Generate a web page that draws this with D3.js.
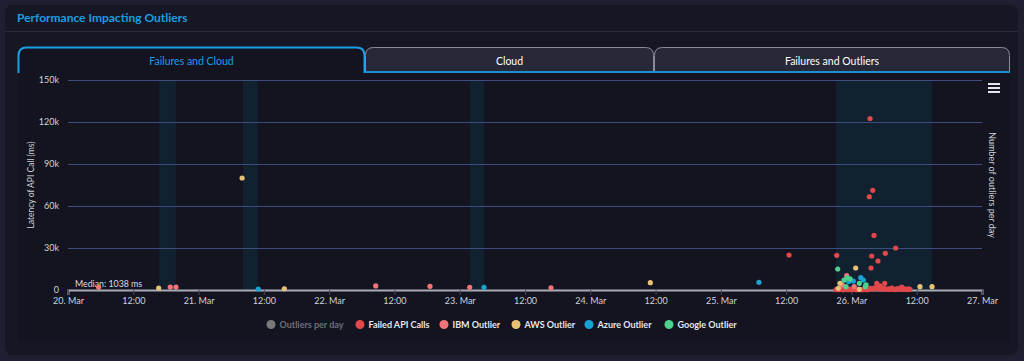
<!DOCTYPE html>
<html>
<head>
<meta charset="utf-8">
<script src="https://cdn.jsdelivr.net/npm/d3@7"></script>
<style>
  html, body { margin: 0; padding: 0; background: #1e1f31; overflow: hidden; }
  svg { display: block; font-family: Lato, sans-serif; }
</style>
</head>
<body>
<script>
// chart data (times are local, value in ms)
var failedApi = [
  ['2023-03-25T12:32', 25000], ['2023-03-25T21:18', 24800], ['2023-03-26T03:25', 122500],
  ['2023-03-26T03:55', 71200], ['2023-03-26T03:17', 66600], ['2023-03-26T04:09', 39000],
  ['2023-03-26T08:08', 30000], ['2023-03-26T06:14', 26200], ['2023-03-26T03:44', 24300],
  ['2023-03-26T04:53', 20700], ['2023-03-26T03:36', 15700], ['2023-03-26T04:39', 4800],
  ['2023-03-26T06:07', 4800], ['2023-03-26T05:15', 3000], ['2023-03-26T09:14', 2000],
  ['2023-03-25T21:10', 300], ['2023-03-25T21:40', 200], ['2023-03-25T22:05', 500],
  ['2023-03-25T22:30', 150], ['2023-03-25T22:55', 400], ['2023-03-25T23:20', 250],
  ['2023-03-25T23:40', 600], ['2023-03-26T00:05', 200], ['2023-03-26T00:30', 350],
  ['2023-03-26T00:55', 150], ['2023-03-26T01:15', 450], ['2023-03-26T01:40', 300],
  ['2023-03-26T02:00', 200], ['2023-03-26T02:25', 500], ['2023-03-26T02:50', 250],
  ['2023-03-26T03:10', 800], ['2023-03-26T03:30', 1200], ['2023-03-26T03:50', 600],
  ['2023-03-26T04:15', 1500], ['2023-03-26T04:30', 900], ['2023-03-26T04:50', 2200],
  ['2023-03-26T05:05', 700], ['2023-03-26T05:25', 1800], ['2023-03-26T05:45', 600],
  ['2023-03-26T06:00', 1100], ['2023-03-26T06:25', 500], ['2023-03-26T06:45', 900],
  ['2023-03-26T07:05', 400], ['2023-03-26T07:25', 1300], ['2023-03-26T07:45', 600],
  ['2023-03-26T08:05', 300], ['2023-03-26T08:25', 1000], ['2023-03-26T08:45', 500],
  ['2023-03-26T09:05', 1400], ['2023-03-26T09:30', 400], ['2023-03-26T09:50', 800],
  ['2023-03-26T10:10', 300], ['2023-03-26T10:30', 900], ['2023-03-26T10:45', 500]
];
var ibmOutlier = [
  ['2023-03-20T05:38', 1900], ['2023-03-20T18:48', 2100], ['2023-03-20T19:51', 2100],
  ['2023-03-22T08:34', 2900], ['2023-03-22T18:32', 2600], ['2023-03-23T01:50', 1900],
  ['2023-03-23T16:47', 1600], ['2023-03-25T23:08', 10200], ['2023-03-25T22:20', 3500],
  ['2023-03-26T00:30', 2500]
];
var awsOutlier = [
  ['2023-03-20T16:40', 1400], ['2023-03-21T08:00', 80000], ['2023-03-21T15:46', 900],
  ['2023-03-24T11:02', 5200], ['2023-03-26T00:47', 15700], ['2023-03-25T21:54', 4800],
  ['2023-03-25T21:35', 1200], ['2023-03-26T01:27', 500], ['2023-03-26T12:36', 2400],
  ['2023-03-26T14:49', 2400]
];
var azureOutlier = [
  ['2023-03-21T10:58', 700], ['2023-03-23T04:28', 1900], ['2023-03-25T07:00', 5500],
  ['2023-03-26T00:21', 6400], ['2023-03-26T01:43', 8800], ['2023-03-26T02:11', 7100],
  ['2023-03-25T23:30', 6000]
];
var googleOutlier = [
  ['2023-03-25T21:29', 15000], ['2023-03-25T22:38', 7100], ['2023-03-25T23:45', 7900],
  ['2023-03-26T01:27', 4800], ['2023-03-26T02:41', 3600], ['2023-03-26T02:33', 2400],
  ['2023-03-25T23:00', 2400], ['2023-03-25T23:15', 8600]
];
// shaded time windows
var bands = [
  ['2023-03-20T16:45', '2023-03-20T19:50'],
  ['2023-03-21T08:10', '2023-03-21T10:55'],
  ['2023-03-23T01:53', '2023-03-23T04:28'],
  ['2023-03-25T21:10', '2023-03-26T14:49']
];
var yTicks = [0, 30000, 60000, 90000, 120000, 150000];
var medianValue = 1038;
var tabNames = ['Failures and Cloud', 'Cloud', 'Failures and Outliers'];
var legendNames = ['Outliers per day', 'Failed API Calls', 'IBM Outlier', 'AWS Outlier', 'Azure Outlier', 'Google Outlier'];
var legendColors = ['#7a7a7a', '#e0484a', '#f27679', '#e8c274', '#17a4d4', '#4fd08c'];

var W = 1024, H = 361;
var parseT = d3.timeParse('%Y-%m-%dT%H:%M');

var svg = d3.select('body').append('svg')
  .attr('width', W)
  .attr('height', H);

// card
svg.append('rect')
  .attr('x', 5).attr('y', 5).attr('width', 1013).attr('height', 350)
  .attr('rx', 8).attr('fill', '#161724');

svg.append('text')
  .attr('x', 17).attr('y', 22)
  .attr('font-size', 12).attr('font-weight', 700)
  .attr('fill', '#1d9de0')
  .text('Performance Impacting Outliers');

svg.append('line')
  .attr('x1', 5).attr('x2', 1018).attr('y1', 31.5).attr('y2', 31.5)
  .attr('stroke', '#272939');

// chart background
svg.append('rect')
  .attr('x', 18).attr('y', 73).attr('width', 992).attr('height', 268)
  .attr('fill', '#131420');

// tabs
var tabX = [18, 365, 654, 1010];
var tabPath = (x0, x1, y0, y1, r) =>
  'M' + x0 + ' ' + y1 + ' L' + x0 + ' ' + (y0 + r) + ' Q' + x0 + ' ' + y0 + ' ' + (x0 + r) + ' ' + y0 +
  ' L' + (x1 - r) + ' ' + y0 + ' Q' + x1 + ' ' + y0 + ' ' + x1 + ' ' + (y0 + r) + ' L' + x1 + ' ' + y1;

tabNames.forEach((name, i) => {
  var x0 = tabX[i] + 0.5, x1 = tabX[i + 1] - 0.5;
  var active = i == 0;
  svg.append('path')
    .attr('d', tabPath(x0, x1, 47.5, 73, 8) + ' Z')
    .attr('fill', active ? '#131420' : '#272838');
  svg.append('path')
    .attr('d', tabPath(x0, x1, 47.5, 73, 8))
    .attr('fill', 'none')
    .attr('stroke', active ? '#1a9fe6' : '#8a8b98')
    .attr('stroke-width', active ? 2 : 1);
  if (!active) {
    svg.append('line')
      .attr('x1', tabX[i]).attr('x2', tabX[i + 1]).attr('y1', 72).attr('y2', 72)
      .attr('stroke', '#1a8fd0').attr('stroke-width', 2);
  }
  svg.append('text')
    .attr('x', (tabX[i] + tabX[i + 1]) / 2).attr('y', 65)
    .attr('text-anchor', 'middle')
    .attr('font-size', 10.5)
    .attr('fill', active ? '#1d9de0' : '#ffffff')
    .text(name);
});

// scales
var x = d3.scaleTime()
  .domain([parseT('2023-03-20T00:00'), parseT('2023-03-27T00:00')])
  .range([68, 982]);
var y = d3.scaleLinear().domain([0, 150000]).range([290, 80]);

// plot bands
svg.append('g').selectAll('rect')
  .data(bands)
  .join('rect')
  .attr('x', d => x(parseT(d[0])))
  .attr('width', d => x(parseT(d[1])) - x(parseT(d[0])))
  .attr('y', 80).attr('height', 210)
  .attr('fill', '#11212f');

// grid
svg.append('g').selectAll('line')
  .data(yTicks.filter(d => d > 0))
  .join('line')
  .attr('x1', 68).attr('x2', 982)
  .attr('y1', d => y(d) + 0.5).attr('y2', d => y(d) + 0.5)
  .attr('stroke', '#3d4d80');

// y labels
svg.append('g').selectAll('text')
  .data(yTicks)
  .join('text')
  .attr('x', 59).attr('y', d => y(d) + 3)
  .attr('text-anchor', 'end')
  .attr('font-size', 9).attr('fill', '#d0d0d8')
  .text(d => d == 0 ? '0' : (d / 1000) + 'k');

// x axis
var xAxis = d3.axisBottom(x)
  .ticks(d3.timeHour.every(12))
  .tickSize(5)
  .tickFormat(d => d.getHours() == 0 ? d3.timeFormat('%d. %b')(d) : d3.timeFormat('%H:%M')(d));
var gx = svg.append('g')
  .attr('transform', 'translate(0,290)')
  .call(xAxis);
gx.select('.domain').attr('stroke', '#a8aab4').attr('stroke-width', 2);
gx.selectAll('.tick line').attr('stroke', '#44465a');
gx.selectAll('.tick text')
  .attr('fill', '#d0d0d8').attr('font-size', 9)
  .attr('font-family', 'Lato, sans-serif')
  .attr('dy', '0.35em').attr('y', 11);

// median label
svg.append('text')
  .attr('x', 75).attr('y', y(medianValue) - 1.5)
  .attr('font-size', 8.8).attr('fill', '#dcdce2')
  .text('Median: ' + medianValue + ' ms');

// axis titles
svg.append('text')
  .attr('transform', 'translate(34,185) rotate(-90)')
  .attr('text-anchor', 'middle')
  .attr('font-size', 8.5).attr('fill', '#d0d0d8')
  .text('Latency of API Call (ms)');
svg.append('text')
  .attr('transform', 'translate(989,185) rotate(90)')
  .attr('text-anchor', 'middle')
  .attr('font-size', 9).attr('fill', '#d0d0d8')
  .text('Number of outliers per day');

// scatter series
var series = [
  [failedApi, legendColors[1]],
  [ibmOutlier, legendColors[2]],
  [awsOutlier, legendColors[3]],
  [azureOutlier, legendColors[4]],
  [googleOutlier, legendColors[5]]
];
series.forEach((s) => {
  svg.append('g').selectAll('circle')
    .data(s[0])
    .join('circle')
    .attr('cx', d => x(parseT(d[0])))
    .attr('cy', d => y(d[1]))
    .attr('r', 2.6)
    .attr('fill', s[1]);
});

// menu icon
[84, 88, 92].forEach((yy) => {
  svg.append('rect')
    .attr('x', 988).attr('y', yy - 1).attr('width', 12).attr('height', 2)
    .attr('fill', '#e6e6ee');
});

// legend
var legendX = [271, 360, 444, 516, 589, 669];
legendNames.forEach((name, i) => {
  var g = svg.append('g').attr('transform', 'translate(' + legendX[i] + ',324.5)');
  g.append('circle').attr('r', 4.5).attr('fill', legendColors[i]);
  g.append('text')
    .attr('x', 8.5).attr('y', 3.2)
    .attr('font-size', 9).attr('font-weight', 700)
    .attr('fill', i == 0 ? '#6e6e78' : '#e6e6ee')
    .text(name);
});
</script>
</body>
</html>
